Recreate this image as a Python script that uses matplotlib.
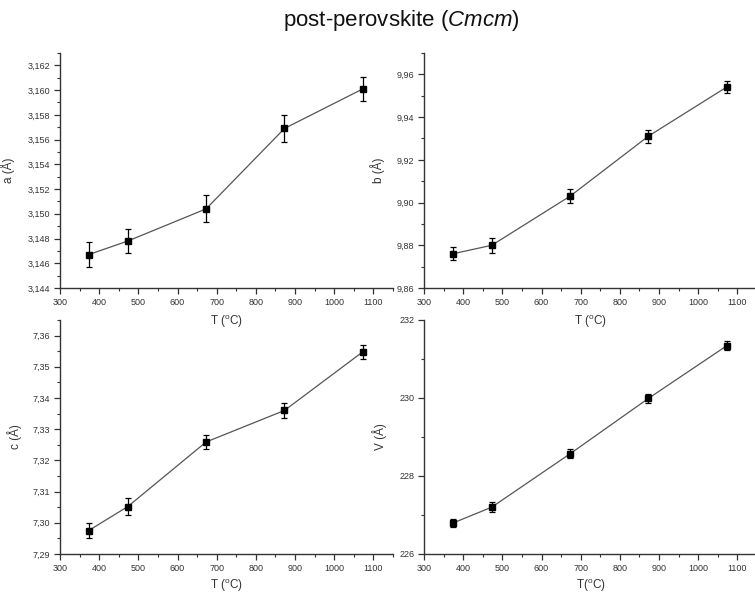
import numpy as np
import matplotlib
matplotlib.use("Agg")
import matplotlib.pyplot as plt
from matplotlib.ticker import MultipleLocator, FuncFormatter

plt.rcParams['font.family'] = ['Liberation Sans', 'DejaVu Sans']
plt.rcParams['mathtext.fontset'] = 'custom'
plt.rcParams['mathtext.rm'] = 'Liberation Sans'
plt.rcParams['mathtext.it'] = 'Liberation Sans:italic'

# temperatures (deg C)
temp = [373, 473, 673, 873, 1073]

a_val = [3.1467, 3.1478, 3.1504, 3.1569, 3.1601]
a_err = [0.0010, 0.0010, 0.0011, 0.0011, 0.0010]

b_val = [9.8760, 9.8800, 9.9030, 9.9311, 9.9541]
b_err = [0.0030, 0.0035, 0.0032, 0.0030, 0.0030]

c_val = [7.2975, 7.3052, 7.3259, 7.3360, 7.3548]
c_err = [0.0025, 0.0026, 0.0023, 0.0025, 0.0022]

v_val = [226.79, 227.20, 228.57, 229.99, 231.34]
v_err = [0.11, 0.13, 0.12, 0.12, 0.12]

fig = plt.figure(figsize=(7.55, 5.93), dpi=100)

tick_col = '#333333'


def comma_fmt(ndec):
    # decimal comma, like the original
    if ndec == 0:
        return FuncFormatter(lambda v, p: "%d" % round(v))
    fmt = "%." + str(ndec) + "f"
    return FuncFormatter(lambda v, p: (fmt % v).replace('.', ','))


def panel(rect, y, yerr, ylim, ymaj, ymin, ndec, ylabel, xlabel, ylab_x,
          xpad=5):
    ax = fig.add_axes(rect)
    ax.patch.set_visible(False)
    ax.plot(temp, y, '-', color='#555555', lw=0.9, zorder=2)
    ax.errorbar(temp, y, yerr=yerr, fmt='s', color='black', ms=5,
                ecolor='black', elinewidth=0.9, capsize=2.5, capthick=0.9,
                zorder=3)
    ax.set_xlim(300, 1150)
    ax.set_ylim(*ylim)
    ax.xaxis.set_major_locator(MultipleLocator(100))
    ax.xaxis.set_minor_locator(MultipleLocator(50))
    ax.yaxis.set_major_locator(MultipleLocator(ymaj))
    ax.yaxis.set_minor_locator(MultipleLocator(ymin))
    ax.yaxis.set_major_formatter(comma_fmt(ndec))
    for s in ['top', 'right']:
        ax.spines[s].set_visible(False)
    for s in ['left', 'bottom']:
        ax.spines[s].set_color('#333333')
        ax.spines[s].set_linewidth(1.0)
    ax.tick_params(which='major', direction='out', length=4, width=0.9,
                   labelsize=6.5, colors='#333333', labelcolor=tick_col,
                   pad=3)
    ax.tick_params(which='minor', direction='out', length=2.5, width=0.8,
                   colors='#333333')
    ax.set_ylabel(ylabel, fontsize=8.5, color=tick_col)
    ax.yaxis.set_label_coords(ylab_x, 0.5)
    ax.set_xlabel(xlabel, fontsize=8.5, color=tick_col, labelpad=xpad)
    return ax


xl = r'T ($\mathrm{^{o}}$C)'
panel([0.0795, 0.5143, 0.441, 0.3963], a_val, a_err, (3.144, 3.163),
      0.002, 0.001, 3, u'a (\u00c5)', xl, -0.135)
panel([0.5616, 0.5143, 0.441, 0.3963], b_val, b_err, (9.86, 9.97),
      0.02, 0.01, 2, u'b (\u00c5)', xl, -0.117)
panel([0.0795, 0.0658, 0.441, 0.3946], c_val, c_err, (7.29, 7.365),
      0.01, 0.005, 2, u'c (\u00c5)', xl, -0.114, xpad=3)
panel([0.5616, 0.0658, 0.441, 0.3946], v_val, v_err, (226, 232),
      2, 1, 0, u'V (\u00c5)', r'T($\mathrm{^{o}}$C)', -0.11, xpad=3)

fig.text(0.531, 0.965, r'post-perovskite ($\mathit{Cmcm}$)', ha='center',
         va='center', fontsize=16, color='#111111')

fig.savefig('out.png', dpi=100)
